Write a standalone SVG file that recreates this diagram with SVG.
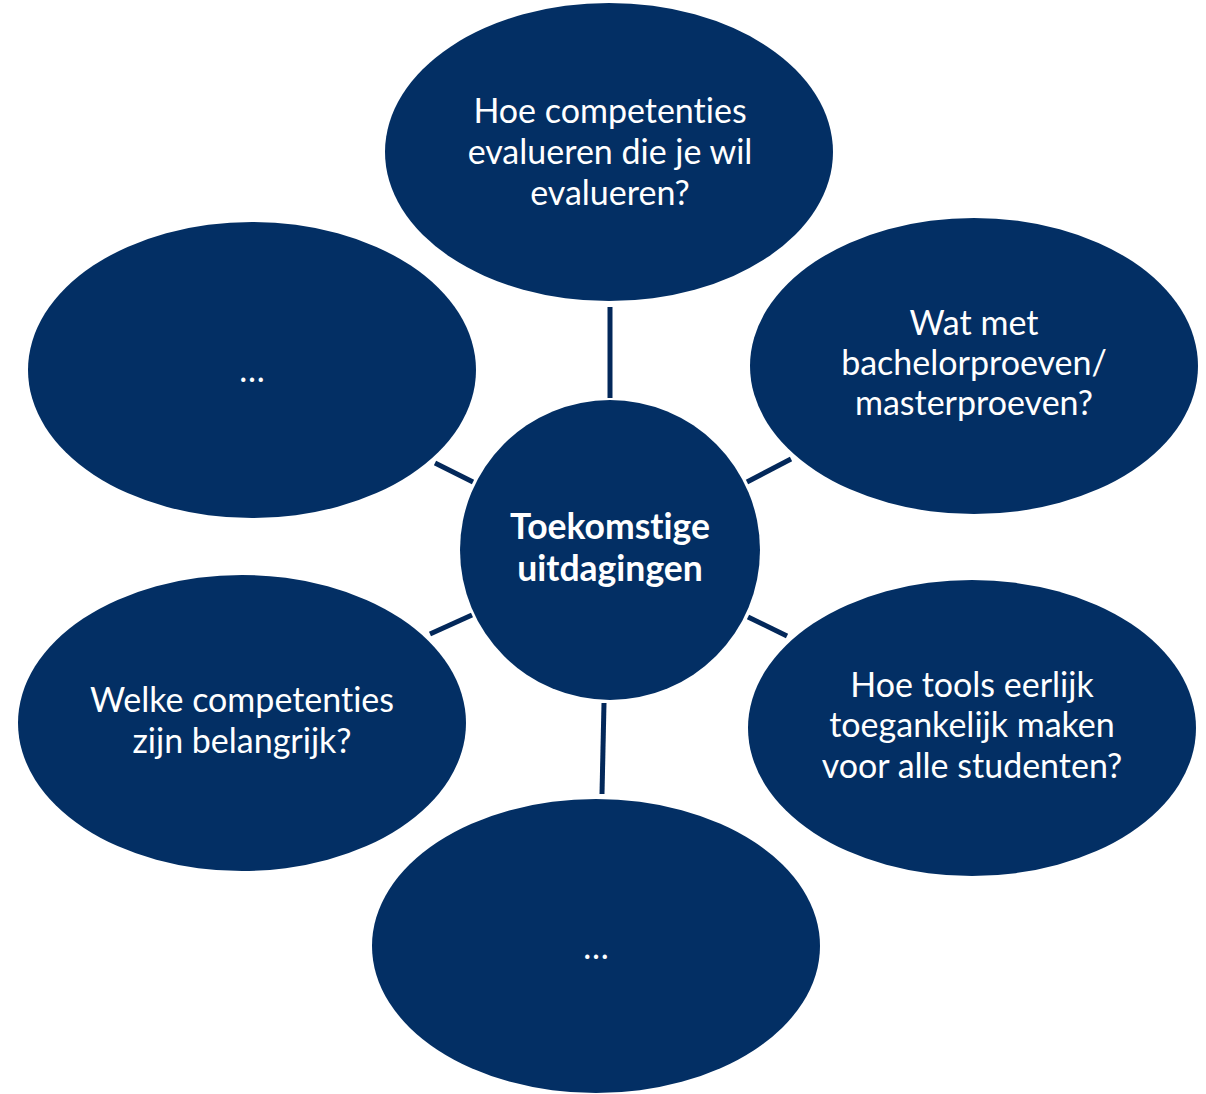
<svg xmlns="http://www.w3.org/2000/svg" width="1206" height="1094" viewBox="0 0 1206 1094">
<style>
.node{fill:#032F64}
.conn line{stroke:#03285A;stroke-width:5}
.t{font-family:Lato,"Open Sans","Liberation Sans",sans-serif;font-size:34px;fill:#FFFFFF;text-anchor:middle;font-variant-ligatures:none}
.b{font-weight:bold;font-size:35.5px}
</style>
<rect width="1206" height="1094" fill="#FFFFFF"/>
<g id="connectors" class="conn">
<line x1="610" y1="307" x2="610" y2="398"/>
<line x1="747" y1="482" x2="791" y2="459"/>
<line x1="748" y1="617" x2="787" y2="636"/>
<line x1="604" y1="703" x2="602" y2="794"/>
<line x1="472" y1="615" x2="430" y2="634"/>
<line x1="473" y1="482" x2="435" y2="463"/>
</g>
<g id="node-top">
<ellipse class="node" cx="609" cy="152" rx="224" ry="149"/>
<text class="t" x="610" y="123">Hoe competenties</text>
<text class="t" x="610" y="164">evalueren die je wil</text>
<text class="t" x="610" y="205">evalueren?</text>
</g>
<g id="node-right-top">
<ellipse class="node" cx="974" cy="366" rx="224" ry="148"/>
<text class="t" x="974" y="335">Wat met</text>
<text class="t" x="974" y="375">bachelorproeven/</text>
<text class="t" x="974" y="415">masterproeven?</text>
</g>
<g id="node-right-bottom">
<ellipse class="node" cx="972" cy="728" rx="224" ry="148"/>
<text class="t" x="972" y="697">Hoe tools eerlijk</text>
<text class="t" x="972" y="737">toegankelijk maken</text>
<text class="t" x="972" y="778">voor alle studenten?</text>
</g>
<g id="node-bottom">
<ellipse class="node" cx="596" cy="946" rx="224" ry="147"/>
<text class="t" x="596" y="959">…</text>
</g>
<g id="node-left-bottom">
<ellipse class="node" cx="242" cy="723" rx="224" ry="148"/>
<text class="t" x="242" y="712">Welke competenties</text>
<text class="t" x="242" y="753">zijn belangrijk?</text>
</g>
<g id="node-left-top">
<ellipse class="node" cx="252" cy="370" rx="224" ry="148"/>
<text class="t" x="252" y="382">…</text>
</g>
<g id="node-center">
<circle class="node" cx="610" cy="550" r="150"/>
<text class="t b" x="610" y="539">Toekomstige</text>
<text class="t b" x="610" y="581">uitdagingen</text>
</g>
</svg>
